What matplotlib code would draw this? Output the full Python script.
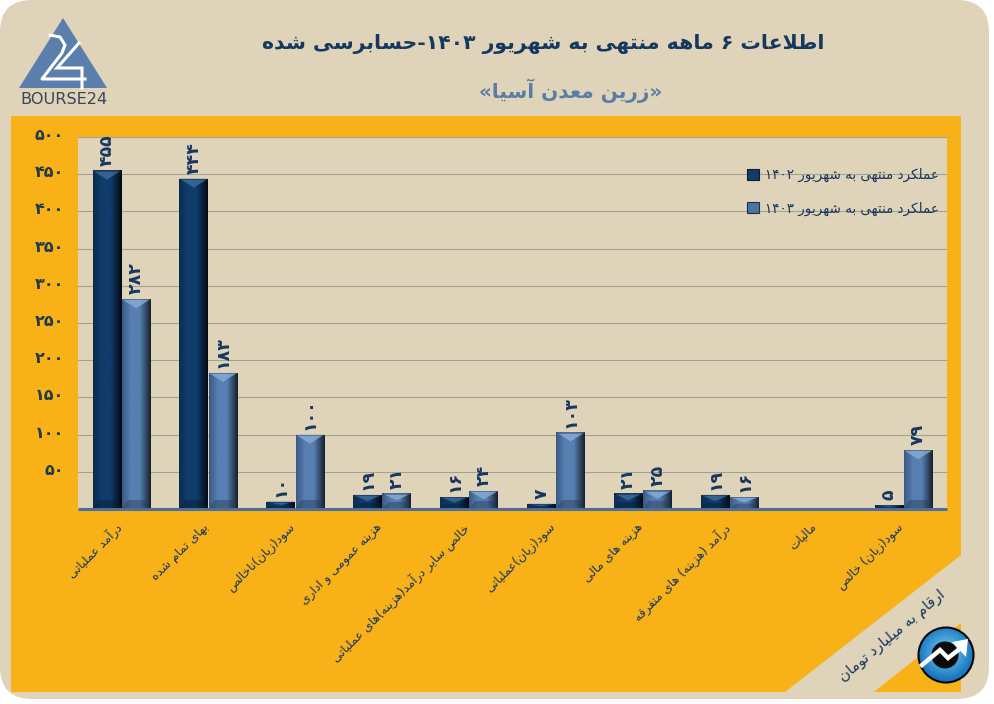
import numpy as np
import matplotlib
matplotlib.use("Agg")
import matplotlib.pyplot as plt
from matplotlib.patches import FancyBboxPatch, Polygon, Circle, Patch
from matplotlib.lines import Line2D
from matplotlib.transforms import ScaledTranslation

categories = ["درآمد عملیاتی", "بهای تمام شده", "سود(زیان)ناخالص", "هزینه عمومی و اداری",
              "خالص سایر درآمد(هزینه)های عملیاتی", "سود(زیان)عملیاتی", "هزینه های مالی",
              "درآمد (هزینه) های متفرقه", "مالیات", "سود(زیان) خالص"]
values_1402 = [455, 444, 10, 19, 16, 7, 21, 19, 0, 5]
values_1403 = [282, 183, 100, 21, 24, 103, 25, 16, 0, 79]
y_ticks = [50, 100, 150, 200, 250, 300, 350, 400, 450, 500]
series_names = ["عملکرد منتهی به شهریور ۱۴۰۲", "عملکرد منتهی به شهریور ۱۴۰۳"]
title_main = "اطلاعات ۶ ماهه منتهی به شهریور ۱۴۰۳-حسابرسی شده"
title_sub = "«زرین معدن آسیا»"
unit_note = "ارقام به میلیارد تومان"

# ---- minimal Persian shaping (matplotlib does not shape or reorder RTL text)
DUAL = {'ب': 0xFE8F, 'ت': 0xFE95, 'ث': 0xFE99, 'ج': 0xFE9D, 'ح': 0xFEA1, 'خ': 0xFEA5, 'س': 0xFEB1,
        'ش': 0xFEB5, 'ص': 0xFEB9, 'ض': 0xFEBD, 'ط': 0xFEC1, 'ظ': 0xFEC5, 'ع': 0xFEC9, 'غ': 0xFECD,
        'ف': 0xFED1, 'ق': 0xFED5, 'ل': 0xFEDD, 'م': 0xFEE1, 'ن': 0xFEE5, 'ه': 0xFEE9,
        'پ': 0xFB56, 'چ': 0xFB7A, 'ک': 0xFB8E, 'گ': 0xFB92, 'ی': 0xFBFC}
RIGHT = {'ا': 0xFE8D, 'آ': 0xFE81, 'د': 0xFEA9, 'ذ': 0xFEAB, 'ر': 0xFEAD, 'ز': 0xFEAF, 'ژ': 0xFB8A, 'و': 0xFEED}
MIRROR = {'(': ')', ')': '(', '«': '»', '»': '«'}
DIGITS = '۰۱۲۳۴۵۶۷۸۹'


def fa(s):
    out = []
    i = 0
    n = len(s)
    while i < n:
        c = s[i]
        prev_joins = i > 0 and s[i - 1] in DUAL
        if c == 'ل' and i + 1 < n and s[i + 1] in 'اآ':
            base = 0xFEFB if s[i + 1] == 'ا' else 0xFEF5
            out.append(chr(base + (1 if prev_joins else 0)))
            i += 2
            continue
        next_joins = i + 1 < n and (s[i + 1] in DUAL or s[i + 1] in RIGHT)
        if c in DUAL:
            k = (3 if next_joins else 1) if prev_joins else (2 if next_joins else 0)
            out.append(chr(DUAL[c] + k))
        elif c in RIGHT:
            out.append(chr(RIGHT[c] + (1 if prev_joins else 0)))
        else:
            out.append(MIRROR.get(c, c))
        i += 1
    # visual order: reverse everything, then keep digit runs left-to-right
    rev = out[::-1]
    res, run = [], []
    for ch in rev:
        if ch in DIGITS:
            run.append(ch)
        else:
            res.extend(run[::-1])
            run = []
            res.append(ch)
    res.extend(run[::-1])
    return ''.join(res)


def fa_num(v):
    return ''.join(DIGITS[int(d)] for d in str(v))


BEIGE = '#DFD4B9'
ORANGE = '#F9B118'
NAVY = '#16375F'
STEEL = '#5A7DA8'
W, H = 995, 704

plt.rcParams['font.family'] = ['DejaVu Sans']
fig = plt.figure(figsize=(W / 100, H / 100), dpi=100, facecolor='white')


def px_offset(dx, dy):
    return ScaledTranslation(dx / 100, -dy / 100, fig.dpi_scale_trans)


# ---- decoration layer in pixel coordinates
bg = fig.add_axes([0, 0, 1, 1], zorder=0)
bg.set_xlim(0, W)
bg.set_ylim(H, 0)
bg.axis('off')
bg.add_patch(FancyBboxPatch((30, 30), 929, 639, boxstyle="round,pad=0,rounding_size=1", fc=BEIGE, ec='none'))
bg.patches[-1].set_boxstyle("round", pad=30, rounding_size=32)
bg.add_patch(Polygon([(11, 116), (961, 116), (961, 555), (785, 692), (11, 692)], fc=ORANGE, ec='none'))
bg.add_patch(Polygon([(874, 692), (961, 623), (961, 692)], fc=ORANGE, ec='none'))

bg.text(543, 44, fa(title_main), ha='center', va='center', color=NAVY, fontsize=14.7, fontweight='bold')
bg.text(571, 91, fa(title_sub), ha='center', va='center', color=STEEL, fontsize=14.4, fontweight='bold')
bg.text(892, 636, fa(unit_note), ha='center', va='center', rotation=40, rotation_mode='anchor',
        color=NAVY, fontsize=10.7)

# logo, top left
bg.add_patch(Polygon([(63, 18), (107, 88), (19, 88)], fc='#5A7FAD', ec='none'))
bg.add_line(Line2D([50, 60, 65, 62, 42, 85], [35, 37, 45, 53, 79, 79], color='white', lw=2.2, solid_joinstyle='round'))
bg.add_line(Line2D([79, 57, 82, 82], [43, 68, 68, 88], color='white', lw=2.2, solid_joinstyle='miter'))
bg.text(64, 100, "BOURSE24", ha='center', va='center', color='#3A4556', fontsize=11.6)

# round badge, bottom right
cx, cy = 946, 655
gy, gx = np.mgrid[-1:1:120j, -1:1:120j]
glow = np.clip(np.hypot(gx, gy + 0.1), 0, 1)[..., None]
badge = (1 - glow) * np.array(matplotlib.colors.to_rgb('#7CD0F5')) + glow * np.array(matplotlib.colors.to_rgb('#1675BE'))
ring = Circle((cx, cy), 27.2, fc='none', ec='none')
bg.add_patch(ring)
im_b = bg.imshow(badge, extent=(cx - 28, cx + 28, cy + 28, cy - 28), aspect='auto', zorder=3, interpolation='bilinear')
im_b.set_clip_path(ring)
bg.add_patch(Circle((cx, cy), 27.5, fc='none', ec='#080808', lw=1.5, zorder=3.1))
bg.add_patch(Circle((cx - 1, cy), 13.5, fc='#0A0A0A', ec='none', zorder=3.2))
bg.add_line(Line2D([922, 940, 948, 962], [665, 650, 658, 647], color='white', lw=3.2, solid_joinstyle='miter', zorder=3.3))
bg.add_patch(Polygon([(968, 639), (952, 642), (966, 657)], fc='white', ec='none', zorder=3.3))
bg.set_xlim(0, W)
bg.set_ylim(H, 0)

# ---- chart
ax = fig.add_axes([78 / W, 1 - 509 / H, 869 / W, 372 / H], zorder=1)
ax.set_facecolor(BEIGE)
x = np.arange(len(categories))
bar_w = 0.33
offs = 0.168
ax.set_xlim(-0.5, len(categories) - 0.5)
ax.set_ylim(0, 500)
px_y = 500 / 372

ax.set_axisbelow(True)
ax.yaxis.grid(True, color='#A5A294', lw=0.8)
ax.xaxis.grid(False)
for s in ax.spines.values():
    s.set_visible(False)
ax.set_yticks(y_ticks)
ax.set_yticklabels([fa_num(v) for v in y_ticks], fontsize=11.5, fontweight='bold', color='#1E3A4C')
ax.tick_params(axis='y', length=0, pad=10)
for lab in ax.get_yticklabels():
    lab.set_transform(lab.get_transform() + px_offset(0, -3))
ax.set_xticks(x)
ax.set_xticklabels([fa(c) for c in categories], rotation=45, ha='right', va='top',
                   rotation_mode='anchor', fontsize=8.8, color=NAVY)
ax.tick_params(axis='x', length=0, pad=9)
for lab in ax.get_xticklabels():
    lab.set_transform(lab.get_transform() + px_offset(-7, -1))


def gradient(left, mid, right):
    cols = [matplotlib.colors.to_rgb(c) for c in (left, mid, mid, right)]
    pos = [0, 0.3, 0.62, 1]
    xs = np.linspace(0, 1, 40)
    return np.array([[np.interp(xs, pos, [c[i] for c in cols]) for i in range(3)]]).transpose(0, 2, 1)


STYLES = [
    dict(grad=gradient('#0C2C4E', '#103C6B', '#040A12'), top='#3F6D9D', bottom='#071A30'),
    dict(grad=gradient('#3B5B86', '#577FB1', '#16222F'), top='#8AADD6', bottom='#22364F'),
]
for vals, off, st in ((values_1402, -offs, STYLES[0]), (values_1403, offs, STYLES[1])):
    bars = ax.bar(x + off, vals, bar_w, color=st['grad'][0, 15], ec='none', zorder=2)
    for rect, v in zip(bars, vals):
        if v <= 0:
            continue
        x0, w = rect.get_x(), rect.get_width()
        im = ax.imshow(st['grad'], extent=(x0, x0 + w, 0, v), aspect='auto', zorder=2.1, interpolation='bilinear')
        im.set_clip_path(rect)
        bev = min(9 * px_y, v * 0.45)
        ax.add_patch(Polygon([(x0, v), (x0 + w, v), (x0 + w / 2, v - bev)], fc=st['top'], ec='none', alpha=0.8, zorder=2.2))
        ax.add_patch(Polygon([(x0, 0), (x0 + w, 0), (x0 + 0.8 * w, bev), (x0 + 0.2 * w, bev)], fc=st['bottom'], ec='none', alpha=0.4, zorder=2.2))
        ax.add_patch(Polygon([(x0, v), (x0 + w, v), (x0 + w, v - 1.2 * px_y), (x0, v - 1.2 * px_y)], fc=st['bottom'], ec='none', alpha=0.4, zorder=2.3))
    for xi, v in zip(x + off, vals):
        if v <= 0:
            continue
        ax.annotate(fa_num(v), (xi, v), xytext=(0, 3.5), textcoords='offset points', rotation=90,
                    ha='center', va='bottom', color=NAVY, fontsize=12.5, fontweight='bold', zorder=4, annotation_clip=False)
ax.set_xlim(-0.5, len(categories) - 0.5)
ax.set_ylim(0, 500)
ax.axhline(0, color='#4A6F9C', lw=2.2, zorder=3, clip_on=False, solid_capstyle='butt')

handles = [Patch(fc='#123C68', ec='#0A1C30', lw=0.8), Patch(fc='#4C72A2', ec='#1F3048', lw=0.8)]
leg = ax.legend(handles, [fa(n) for n in series_names], loc='upper left', bbox_to_anchor=(669 / 869, 1 - 31 / 372),
                frameon=False, fontsize=9.75, labelcolor=NAVY, handlelength=0.85, handleheight=0.85,
                handletextpad=0.45, labelspacing=1.43, borderaxespad=0, borderpad=0)
leg.set_zorder(5)

fig.savefig('out.png', dpi=100, facecolor='white')
